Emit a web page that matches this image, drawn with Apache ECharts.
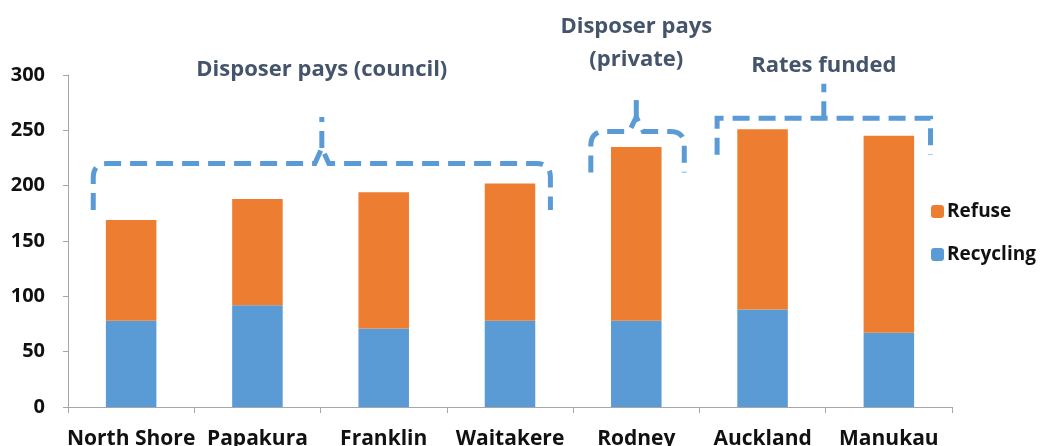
<!DOCTYPE html>
<html><head><meta charset="utf-8">
<script src="https://cdn.jsdelivr.net/npm/echarts@6/dist/echarts.min.js"></script>
<style>html,body{margin:0;padding:0;background:#fff}#c{width:1040px;height:446px}</style>
</head><body><div id="c"></div>
<script>
const categories = ['North Shore','Papakura','Franklin','Waitakere','Rodney','Auckland','Manukau'];
const recycling = [78, 92, 71, 78, 78, 88, 67];
const refuse = [91, 96, 123, 124, 157, 163, 178];
const yTicks = [0, 50, 100, 150, 200, 250, 300];

const FONT = '"Open Sans"';
const chart = echarts.init(document.getElementById('c'));
chart.setOption({
  animation: false,
  grid: {left: 68, right: 88, top: 75, bottom: 39, containLabel: false, outerBoundsMode: 'none'},
  legend: {
    orient: 'vertical', left: 926, top: 197, itemWidth: 13, itemHeight: 13, itemGap: 24,
    data: ['Refuse','Recycling'],
    textStyle: {fontFamily: FONT, fontWeight: 'bold', fontSize: 19, color: '#111', padding: [0,0,0,-2]}
  },
  xAxis: {
    type: 'category', data: categories,
    axisLine: {lineStyle: {color: '#a6a6a6', width: 1}},
    axisTick: {show: true, length: 6, lineStyle: {color: '#a6a6a6'}},
    axisLabel: {interval: 0, margin: 22, fontFamily: FONT, fontWeight: 'bold', fontSize: 21, color: '#111'}
  },
  yAxis: {
    type: 'value', min: 0, max: 300, interval: 50,
    axisLine: {show: true, lineStyle: {color: '#a6a6a6', width: 1}},
    axisTick: {show: true, length: 5, lineStyle: {color: '#a6a6a6'}},
    splitLine: {show: false},
    axisLabel: {margin: 23, fontFamily: FONT, fontWeight: 'bold', fontSize: 20, color: '#111',
      formatter: v => yTicks.includes(v) ? String(v) : ''}
  },
  series: [
    {name: 'Recycling', type: 'bar', stack: 't', data: recycling, barWidth: '40%', itemStyle: {color: '#5b9bd5'}},
    {name: 'Refuse', type: 'bar', stack: 't', data: refuse, barWidth: '40%', itemStyle: {color: '#ed7d31'}}
  ]
});

function px(cat) { return chart.convertToPixel({xAxisIndex: 0}, cat); }
function py(v) { return chart.convertToPixel({yAxisIndex: 0}, v); }
const cw = px(categories[1]) - px(categories[0]);

function quad(p0, p1, p2, n) {
  const out = [];
  for (let i = 1; i <= n; i++) {
    const t = i / n, u = 1 - t;
    out.push([u*u*p0[0] + 2*u*t*p1[0] + t*t*p2[0], u*u*p0[1] + 2*u*t*p1[1] + t*t*p2[1]]);
  }
  return out;
}
function curly(x0, x1, xm, yh, yb, ypk) {
  const r = 14;
  let pts = [[x0, yb], [x0, yh + r]];
  pts = pts.concat(quad([x0, yh + r], [x0, yh], [x0 + r, yh], 8));
  pts.push([xm - 7, yh], [xm, ypk], [xm + 7, yh], [x1 - r, yh]);
  pts = pts.concat(quad([x1 - r, yh], [x1, yh], [x1, yh + r], 8));
  pts.push([x1, yb]);
  return pts;
}
const dashStyle = {stroke: '#5b9bd5', lineWidth: 5, fill: null, lineDash: [17, 9]};
const textStyle = (t, lh) => ({text: t, align: 'center', verticalAlign: 'middle', lineHeight: lh || 28,
  fontFamily: 'Open Sans', fontWeight: 'bold', fontSize: 22, fill: '#44546a'});

// Bracket 1: North Shore .. Waitakere
const b1x0 = px(categories[0]) - 0.3*cw, b1x1 = px(categories[3]) + 0.32*cw;
const b1xm = (b1x0 + b1x1) / 2;
// Bracket 2: Rodney
const b2x0 = px(categories[4]) - 0.36*cw, b2x1 = px(categories[4]) + 0.38*cw;
const b2xm = px(categories[4]);
// Bracket 3: Auckland .. Manukau
const b3x0 = px(categories[5]) - 0.36*cw, b3x1 = px(categories[6]) + 0.33*cw;
const b3xm = (b3x0 + b3x1) / 2;

chart.setOption({
  graphic: [
    {type: 'polyline', shape: {points: curly(b1x0, b1x1, b1xm, py(220), py(178), py(234))}, style: dashStyle},
    {type: 'line', shape: {x1: b1xm, y1: py(234), x2: b1xm, y2: py(262)}, style: dashStyle},
    {type: 'polyline', shape: {points: curly(b2x0, b2x1, b2xm, py(249), py(212), py(262))}, style: dashStyle},
    {type: 'line', shape: {x1: b2xm, y1: py(262), x2: b2xm, y2: py(280)}, style: dashStyle},
    {type: 'polyline', shape: {points: [[b3x0, py(228)], [b3x0, py(261)], [b3x1, py(261)], [b3x1, py(228)]]}, style: dashStyle},
    {type: 'line', shape: {x1: b3xm, y1: py(261), x2: b3xm, y2: py(292)}, style: dashStyle},
    {type: 'text', x: b1xm, y: 70, style: textStyle('Disposer pays (council)')},
    {type: 'text', x: b2xm, y: 43, style: textStyle('Disposer pays\n(private)', 33)},
    {type: 'text', x: b3xm, y: 66, style: textStyle('Rates funded')}
  ]
});
</script></body></html>
